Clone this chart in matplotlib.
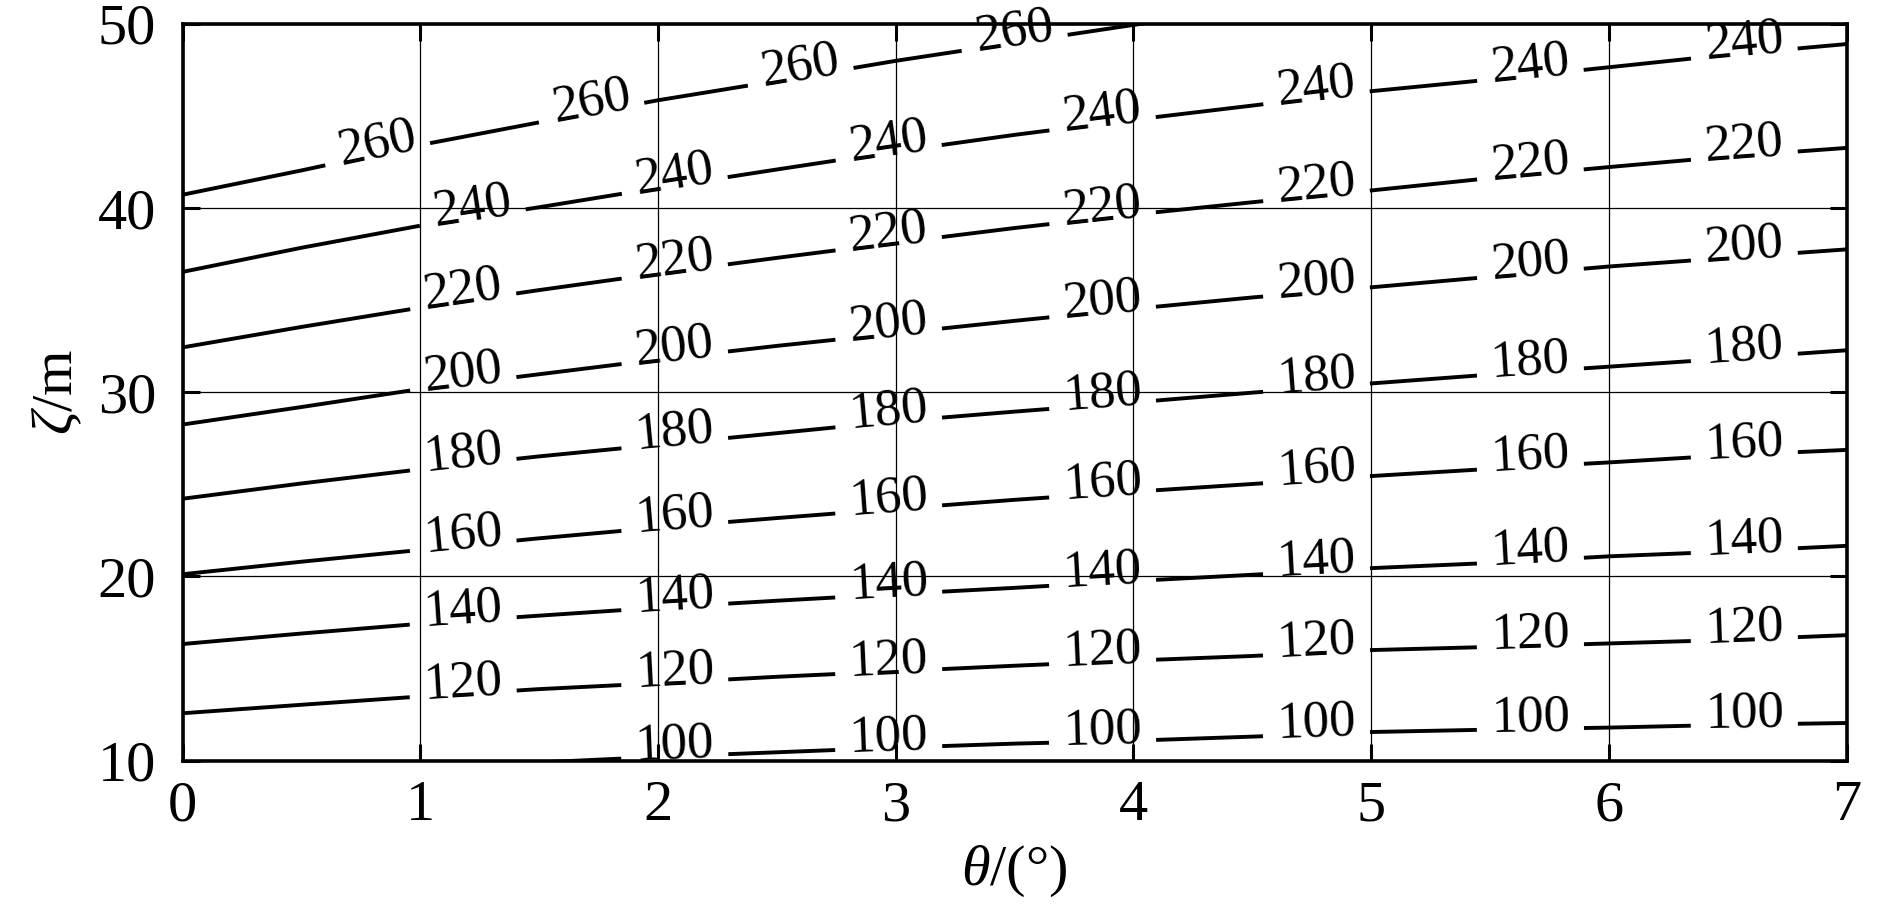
import numpy as np
import matplotlib
matplotlib.use('Agg')
import matplotlib.pyplot as plt
from matplotlib.contour import ContourSet

plt.rcParams['font.family'] = 'serif'
plt.rcParams['font.serif'] = ['Liberation Serif', 'DejaVu Serif']
plt.rcParams['mathtext.fontset'] = 'custom'
plt.rcParams['mathtext.rm'] = 'Liberation Serif'
plt.rcParams['mathtext.it'] = 'Liberation Serif:italic'

# contour heights zeta (m) at each theta (deg)
theta = [0, 0.5, 1, 1.5, 2, 2.5, 3, 3.5, 4, 4.5, 5, 5.5, 6, 6.5, 7]
z100 = [9.0, 9.3, 9.6, 9.9, 10.2, 10.45, 10.7, 10.92, 11.08, 11.3, 11.55, 11.68, 11.79, 11.94, 12.04]
z120 = [12.57, 13.03, 13.48, 13.88, 14.2, 14.55, 14.85, 15.15, 15.43, 15.68, 16.0, 16.17, 16.36, 16.55, 16.81]
z140 = [16.33, 16.9, 17.43, 17.87, 18.3, 18.68, 19.04, 19.38, 19.75, 20.09, 20.45, 20.73, 21.09, 21.35, 21.66]
z160 = [20.12, 20.8, 21.44, 22.07, 22.65, 23.17, 23.67, 24.16, 24.6, 25.02, 25.45, 25.84, 26.19, 26.58, 26.87]
z180 = [24.22, 25.05, 25.82, 26.52, 27.15, 27.78, 28.42, 28.95, 29.45, 29.98, 30.48, 30.96, 31.39, 31.83, 32.28]
z200 = [28.25, 29.2, 30.18, 30.98, 31.78, 32.52, 33.2, 33.88, 34.53, 35.15, 35.7, 36.27, 36.83, 37.3, 37.76]
z220 = [32.44, 33.55, 34.6, 35.55, 36.45, 37.3, 38.12, 38.92, 39.65, 40.32, 40.96, 41.63, 42.23, 42.8, 43.27]
z240 = [36.54, 37.85, 39.05, 40.05, 41.1, 42.1, 43.08, 43.98, 44.8, 45.57, 46.35, 46.98, 47.65, 48.33, 48.91]
z260 = [40.73, 42.05, 43.43, 44.66, 45.86, 46.91, 48.0, 48.98, 49.95, 50.9, 51.8, 52.6, 53.4, 54.2, 55.0]

niveis = [100, 120, 140, 160, 180, 200, 220, 240, 260]
linhas = [z100, z120, z140, z160, z180, z200, z220, z240, z260]

xticks = [0, 1, 2, 3, 4, 5, 6, 7]
yticks = [10, 20, 30, 40, 50]

fig = plt.figure(figsize=(18.9, 9.09), dpi=100)
ax = fig.add_axes([0.0967, 0.1633, 0.8803, 0.8103])

segs = [[np.column_stack([theta, z])] for z in linhas]
cs = ContourSet(ax, niveis, segs, colors='k', linewidths=2.8)

# where the labels sit along each line
col_theta = [1.18, 2.07, 2.97, 3.87, 4.77, 5.67, 6.57]
col_260 = [0.82, 1.72, 2.6, 3.5]
posicoes = []
for nivel, z in zip(niveis, linhas):
    cols = col_260 if nivel == 260 else col_theta
    for t in cols:
        if nivel == 100 and t < 1.5:
            continue
        if nivel == 240 and t < 1.5:
            t = 1.22
        posicoes.append((t, float(np.interp(t, theta, z))))

ax.set_xlim(0, 7)
ax.set_ylim(10, 50)
rotulos = ax.clabel(cs, manual=posicoes, inline=True, inline_spacing=14, fmt='%d', fontsize=38)
# labels sit a little above the line, like in the original figure
for t in rotulos:
    x, y = t.get_position()
    t.set_position((x, y + 0.6))
    t.set_clip_on(False)

ax.set_xticks(xticks)
ax.set_yticks(yticks)
ax.grid(True, color='k', linewidth=0.9)
ax.tick_params(direction='in', length=12, width=2.2, labelsize=42,
               top=True, right=True)
ax.tick_params(axis='x', pad=14)
ax.tick_params(axis='y', pad=19)
for s in ax.spines.values():
    s.set_linewidth(2.6)

ax.set_xlabel(r'$\theta$/(°)', fontsize=42, labelpad=8)
ax.set_ylabel(r'$\zeta$/m', fontsize=42, labelpad=10)

fig.savefig('out.png', dpi=100)
